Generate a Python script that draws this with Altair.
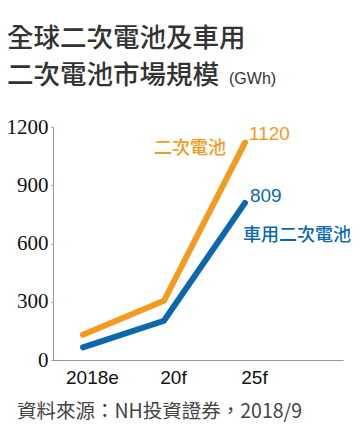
import json
import altair as alt
import pandas as pd

categories = ["2018e", "20f", "25f"]
series_names = ["二次電池", "車用二次電池"]
total_values = [130, 305, 1120]
ev_values = [65, 202, 809]
y_ticks = [0, 300, 600, 900, 1200]

ORANGE = "#F39A21"
BLUE = "#0B68AC"
CJK = "Noto Sans CJK TC"
LAT = "Liberation Sans, Arial, Noto Sans CJK TC"
NARROW = "Liberation Sans Narrow"

rows = []
for name, vals in zip(series_names, [total_values, ev_values]):
    for i, (c, v) in enumerate(zip(categories, vals)):
        rows.append({"idx": i, "cat": c, "value": v, "series": name})
df = pd.DataFrame(rows)

label_expr = json.dumps(categories) + "[datum.value]"

xenc = alt.X("idx:Q",
             scale=alt.Scale(domain=[-0.37, 3.21], nice=False, zero=False),
             axis=alt.Axis(values=list(range(len(categories))), labelExpr=label_expr,
                           ticks=False, grid=False, title=None, labelFontSize=19,
                           labelFont=LAT, labelColor="#111", labelPadding=8,
                           labelOffset=9, domainColor="#999"))
yenc = alt.Y("value:Q",
             scale=alt.Scale(domain=[0, 1200], nice=False),
             axis=alt.Axis(values=y_ticks, format="d", grid=False, title=None, tickSize=2,
                           tickColor="#999", domainColor="#999", labelFontSize=21,
                           labelFont=NARROW, labelColor="#111", labelPadding=3))
color = alt.Color("series:N", scale=alt.Scale(domain=series_names, range=[ORANGE, BLUE]),
                  legend=None)

lines = alt.Chart(df).mark_line(strokeWidth=6, strokeCap="round", strokeJoin="miter").encode(
    x=xenc, y=yenc, color=color, detail="series:N")

last = df[df["idx"] == len(categories) - 1]
tot_last = last[last["series"] == series_names[0]]
ev_last = last[last["series"] == series_names[1]]

val_tot = alt.Chart(tot_last).mark_text(align="left", baseline="alphabetic", dx=4, dy=-3,
                                        fontSize=19, font=LAT, color=ORANGE).encode(
    x="idx:Q", y="value:Q", text="value:Q")
val_ev = alt.Chart(ev_last).mark_text(align="left", baseline="alphabetic", dx=5, dy=-1,
                                      fontSize=19, font=LAT, color=BLUE).encode(
    x="idx:Q", y="value:Q", text="value:Q")
name_tot = alt.Chart(tot_last).mark_text(align="right", baseline="alphabetic", dx=-19, dy=11,
                                         fontSize=18, font=CJK, fontWeight=500,
                                         color=ORANGE).encode(
    x="idx:Q", y="value:Q", text="series:N")
name_ev = alt.Chart(ev_last).mark_text(align="left", baseline="alphabetic", dx=-2, dy=38,
                                       fontSize=18, font=CJK, fontWeight=500,
                                       color=BLUE).encode(
    x="idx:Q", y="value:Q", text="series:N")

one = pd.DataFrame({"k": [0]})

def txt(s, x, y, size, font, col, weight="normal"):
    return alt.Chart(one).mark_text(text=s, align="left", baseline="alphabetic",
                                    fontSize=size, font=font, color=col,
                                    fontWeight=weight).encode(
        x=alt.value(x), y=alt.value(y))

title1 = txt("全球二次電池及車用", -46, -80, 26.5, CJK, "#333", 500)
title2 = txt("二次電池市場規模", -46, -43, 26.5, CJK, "#333", 500)
unit = txt("(GWh)", 176, -43, 16, LAT, "#333")
footer = txt("資料來源：NH投資證券，2018/9", -36, 291, 19.5, CJK, "#444")

top_bar = alt.Chart(one).mark_rule(color="#F08A00", strokeWidth=3).encode(
    x=alt.value(-53), x2=alt.value(310), y=alt.value(-126))
bottom_bar = alt.Chart(one).mark_rule(color="#F5A64C", strokeWidth=2).encode(
    x=alt.value(-53), x2=alt.value(310), y=alt.value(310))

chart = alt.layer(lines, val_tot, val_ev, name_tot, name_ev, title1, title2, unit, footer,
                  top_bar, bottom_bar).properties(
    width=290, height=233,
    autosize=alt.AutoSizeParams(type="none"),
    padding={"left": 45, "top": 119, "right": 10, "bottom": 73},
    background="white",
).configure_view(stroke=None)

chart.save("out.html", embed_options={"renderer": "svg", "actions": False})
